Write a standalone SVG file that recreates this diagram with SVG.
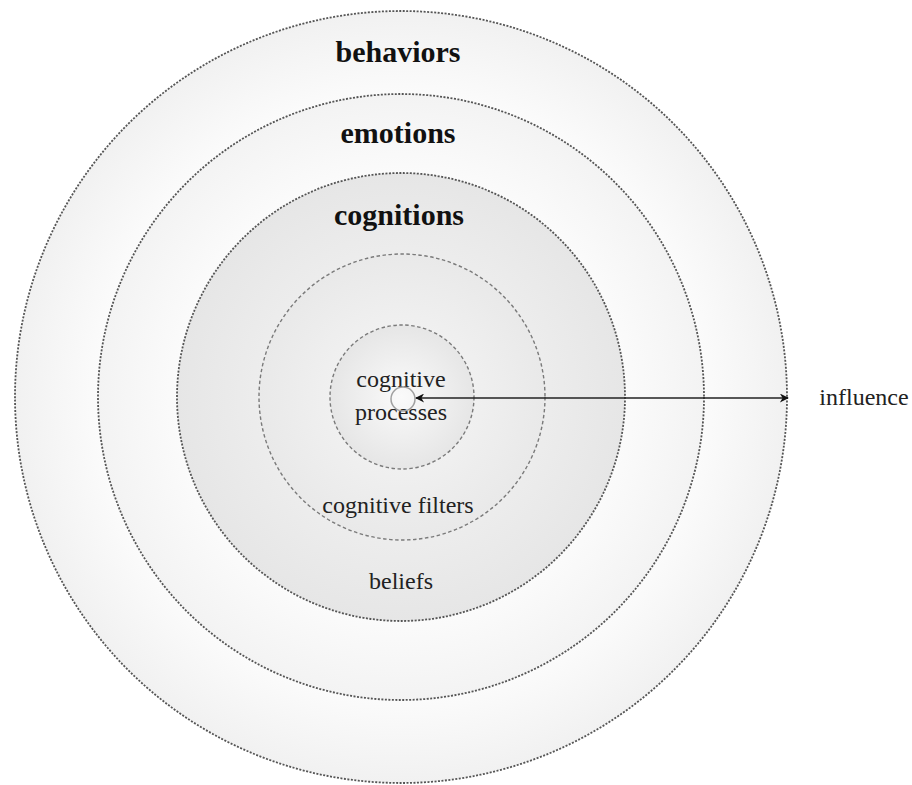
<svg xmlns="http://www.w3.org/2000/svg" width="912" height="785" viewBox="0 0 912 785">
<style>
.dot{stroke:#555;stroke-width:1.8;stroke-dasharray:2 1.5}
.dash{stroke:#7a7a7a;stroke-width:1.4;stroke-dasharray:3.5 2.5}
.lbl{font-family:"Liberation Serif","Times New Roman",serif;font-size:24px;fill:#222;text-anchor:middle}
.big{font-family:"Liberation Serif","Times New Roman",serif;font-size:30px;font-weight:bold;fill:#111;text-anchor:middle}
</style>
<defs>
<radialGradient id="g1" cx="50%" cy="50%" r="50%">
<stop offset="0" stop-color="#ffffff"/><stop offset="0.7" stop-color="#ffffff"/><stop offset="1" stop-color="#f1f1f1"/>
</radialGradient>
<radialGradient id="g2" cx="50%" cy="50%" r="50%">
<stop offset="0" stop-color="#ffffff"/><stop offset="0.6" stop-color="#ffffff"/><stop offset="1" stop-color="#f3f3f3"/>
</radialGradient>
<radialGradient id="g3" cx="50%" cy="50%" r="50%">
<stop offset="0" stop-color="#f8f8f8"/><stop offset="1" stop-color="#e6e6e6"/>
</radialGradient>
<radialGradient id="g4" cx="50%" cy="50%" r="50%">
<stop offset="0" stop-color="#f7f7f7"/><stop offset="1" stop-color="#e9e9e9"/>
</radialGradient>
<radialGradient id="g5" cx="50%" cy="50%" r="50%">
<stop offset="0" stop-color="#fafafa"/><stop offset="1" stop-color="#e6e6e6"/>
</radialGradient>
<marker id="ah" viewBox="0 0 10 10" refX="9" refY="5" markerWidth="11" markerHeight="9" orient="auto-start-reverse" markerUnits="userSpaceOnUse">
<path d="M0,0 L10,5 L0,10 L3,5 Z" fill="#111"/>
</marker>
</defs>
<rect width="912" height="785" fill="#ffffff"/>
<g id="behaviors">
<circle cx="401" cy="397" r="386" fill="url(#g1)" class="dot"/>
<text x="398" y="62" class="big">behaviors</text>
</g>
<g id="emotions">
<circle cx="401" cy="397" r="303" fill="url(#g2)" class="dot"/>
<text x="398" y="143" class="big">emotions</text>
</g>
<g id="cognitions">
<circle cx="401" cy="397" r="224" fill="url(#g3)" class="dot"/>
<text x="399" y="225" class="big">cognitions</text>
<text x="401" y="589" class="lbl">beliefs</text>
</g>
<g id="cognitive-filters">
<circle cx="402" cy="397" r="143" fill="url(#g4)" class="dash"/>
<text x="398" y="513" class="lbl">cognitive filters</text>
</g>
<g id="cognitive-processes">
<circle cx="402" cy="397" r="72" fill="url(#g5)" class="dash"/>
<text x="401" y="387" class="lbl">cognitive</text>
<text x="401" y="420" class="lbl">processes</text>
</g>
<g id="center">
<circle cx="403" cy="399" r="12" fill="none" stroke="#a0a0a0" stroke-width="1.5"/>
</g>
<g id="influence">
<text x="864" y="405" class="lbl">influence</text>
</g>
<g id="connectors">
<line x1="416" y1="398" x2="788" y2="398" stroke="#222" stroke-width="1.5" marker-start="url(#ah)" marker-end="url(#ah)"/>
</g>
</svg>
